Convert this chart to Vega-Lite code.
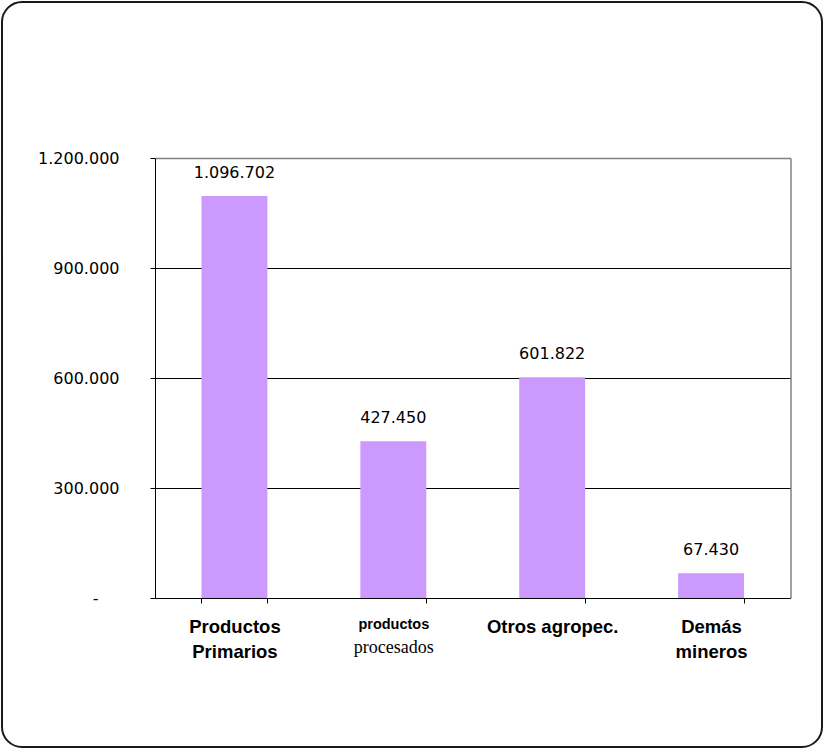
{
  "$schema": "https://vega.github.io/schema/vega-lite/v6.json",
  "width": 820,
  "height": 745,
  "autosize": {"type": "none"},
  "padding": {"left": 2, "top": 2, "right": 3, "bottom": 3},
  "background": "white",
  "config": {
    "view": {"stroke": "#1a1a1a", "strokeWidth": 2, "cornerRadius": 20},
    "locale": {"number": {"decimal": ",", "thousands": ".", "grouping": [3], "currency": ["", ""]}}
  },
  "data": {
    "values": [
      {"cat": "Productos Primarios", "value": 1096702},
      {"cat": "productos procesados", "value": 427450},
      {"cat": "Otros agropec.", "value": 601822},
      {"cat": "Demás mineros", "value": 67430}
    ]
  },
  "layer": [
    {
      "mark": {"type": "bar", "color": "#CC99FF"},
      "encoding": {
        "x": {
          "field": "cat",
          "type": "nominal",
          "sort": null,
          "scale": {"range": [153, 788.5], "paddingInner": 0.585, "paddingOuter": 0.2925},
          "axis": {
            "orient": "bottom",
            "offset": -149,
            "title": null,
            "labelAngle": 0,
            "grid": false,
            "domainColor": "black",
            "domainWidth": 1,
            "tickColor": "black",
            "tickSize": 5,
            "tickBand": "extent",
            "labelPadding": 14,
            "labelFont": "Liberation Sans",
            "labelFontWeight": "bold",
            "labelFontSize": {"condition": {"test": "datum.value === 'productos procesados'", "value": 14.5}, "value": 18.5},
            "labelColor": "black",
            "labelLineHeight": 25.5,
            "labelLimit": 300,
            "labelExpr": "!isString(datum.value) ? '' : (datum.value === 'Otros agropec.' ? datum.value : (datum.value === 'productos procesados' ? 'productos' : split(datum.value, ' ')))"
          }
        },
        "y": {
          "field": "value",
          "type": "quantitative",
          "scale": {"domain": [0, 1200000], "range": [596, 156], "nice": false},
          "axis": {
            "orient": "left",
            "offset": -153,
            "title": null,
            "values": [0, 300000, 600000, 900000, 1200000],
            "format": ",d",
            "labelExpr": "datum.value === 0 ? '-' : datum.label",
            "grid": true,
            "gridColor": {"condition": {"test": "datum.value === 1200000", "value": "#808080"}, "value": "black"},
            "gridWidth": {"condition": {"test": "datum.value === 1200000", "value": 1.5}, "value": 1},
            "domainColor": "black",
            "domainWidth": 1,
            "tickColor": "black",
            "tickSize": 5,
            "labelPadding": {"condition": {"test": "datum.value === 0", "value": 52}, "value": 31},
            "labelFont": "DejaVu Sans",
            "labelFontSize": 16,
            "labelColor": "black"
          }
        }
      }
    },
    {
      "mark": {"type": "text", "baseline": "alphabetic", "dy": -18, "font": "DejaVu Sans", "fontSize": 16, "color": "black"},
      "encoding": {
        "x": {
          "field": "cat",
          "type": "nominal",
          "sort": null,
          "axis": {
            "orient": "bottom",
            "offset": -149,
            "title": null,
            "labelAngle": 0,
            "grid": false,
            "domain": false,
            "ticks": true,
            "tickOpacity": 0,
            "tickSize": 5,
            "tickBand": "extent",
            "labelPadding": 14,
            "labelFont": "Liberation Serif",
            "labelFontWeight": "normal",
            "labelFontSize": 18,
            "labelColor": "black",
            "labelLineHeight": 21,
            "labelLimit": 300,
            "labelExpr": "datum.value === 'productos procesados' ? ['', 'procesados'] : ''"
          }
        },
        "y": {
          "field": "value",
          "type": "quantitative",
          "axis": {
            "orient": "right",
            "offset": -31.5,
            "title": null,
            "labels": false,
            "ticks": false,
            "grid": false,
            "domainColor": "#808080",
            "domainWidth": 1.5
          }
        },
        "text": {"field": "value", "type": "quantitative", "format": ",d"}
      }
    }
  ],
  "resolve": {"axis": {"x": "independent", "y": "independent"}}
}
